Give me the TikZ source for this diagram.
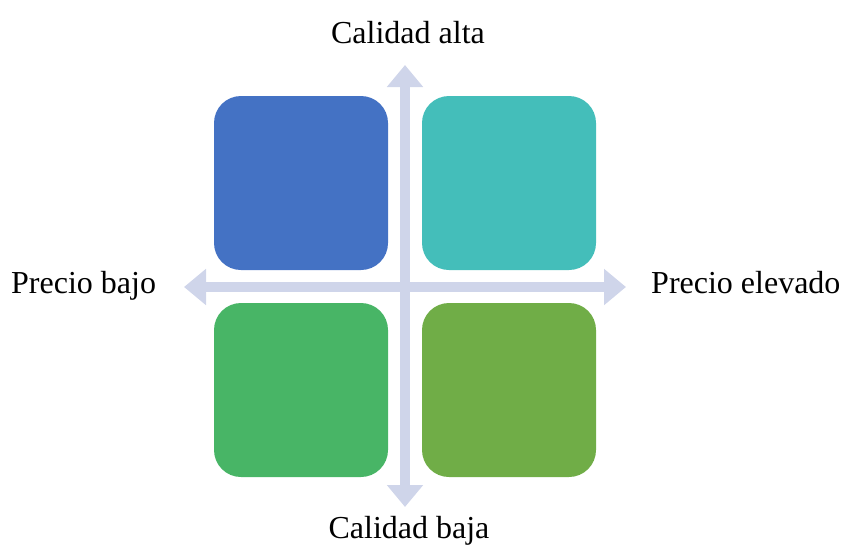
\documentclass[tikz,border=0pt]{standalone}
\usepackage{fontspec}
\setmainfont{Liberation Serif}
\usetikzlibrary{arrows.meta}
\definecolor{cblue}{HTML}{4472C4}
\definecolor{cteal}{HTML}{44BEBA}
\definecolor{cgreen}{HTML}{48B566}
\definecolor{colive}{HTML}{70AD47}
\definecolor{caxis}{HTML}{CFD5EA}
\tikzset{
  quad/.style={draw=none, rounded corners=27pt, minimum width=174pt, minimum height=174pt, inner sep=0pt},
  axis/.style={caxis, line width=10pt, {Triangle[width=35pt,length=22pt]}-{Triangle[width=35pt,length=22pt]}},
  lbl/.style={font=\fontsize{32}{38}\selectfont, inner sep=0pt, anchor=base}
}
\begin{document}
\begin{tikzpicture}[x=1pt,y=-1pt]
\useasboundingbox (0,0) rectangle (842,544);
\node[quad, fill=cblue] (q1) at (301,183) {};
\node[quad, fill=cteal] (q2) at (509,183) {};
\node[quad, fill=cgreen] (q3) at (301,390) {};
\node[quad, fill=colive] (q4) at (509,390) {};
\coordinate (top) at (405,65);
\coordinate (bot) at (405,507);
\coordinate (lft) at (184,287);
\coordinate (rgt) at (626,287);
\draw[axis] (lft) -- (rgt);
\draw[axis] (bot) -- (top);
\node[lbl] (ta) at (408,43) {Calidad alta};
\node[lbl] (tb) at (409,538) {Calidad baja};
\node[lbl, anchor=base west] (tl) at (11,293) {Precio bajo};
\node[lbl, anchor=base west] (tr) at (651,293) {Precio elevado};
\end{tikzpicture}
\end{document}
